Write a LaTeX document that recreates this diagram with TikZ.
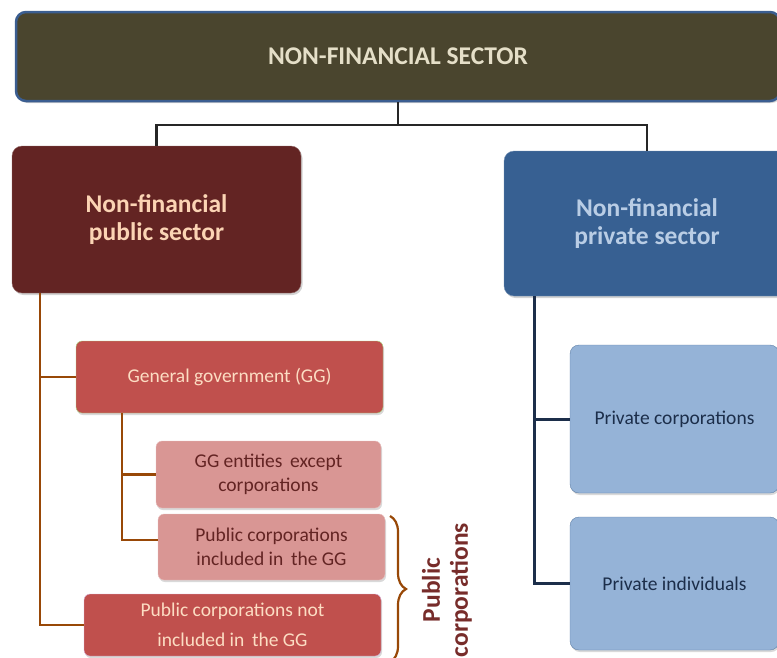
\documentclass[tikz,border=0pt]{standalone}
\usepackage{fontspec}
\setmainfont{Carlito}
\usepackage{tikz}
\usetikzlibrary{positioning,shadows,decorations.pathreplacing}

\definecolor{sectorolive}{RGB}{74,69,46}
\definecolor{sectorrim}{RGB}{59,94,145}
\definecolor{publicdark}{RGB}{99,36,35}
\definecolor{privatedark}{RGB}{55,96,146}
\definecolor{ggred}{RGB}{192,80,77}
\definecolor{ggpink}{RGB}{217,150,148}
\definecolor{privlight}{RGB}{149,179,215}
\definecolor{linebrown}{RGB}{152,72,7}
\definecolor{linenavy}{RGB}{28,46,74}
\definecolor{peach}{RGB}{251,212,180}
\definecolor{paleblue}{RGB}{185,205,229}
\definecolor{beige}{RGB}{229,223,200}
\definecolor{wine}{RGB}{119,44,42}

\begin{document}
\begin{tikzpicture}[x=1pt,y=-1pt]
                \tikzstyle{bigbox}=[rounded corners=10pt,align=center,inner sep=0pt,
                font=\fontsize{25.5}{28}\selectfont\bfseries,
                drop shadow={shadow xshift=1.5pt,shadow yshift=-2pt,opacity=0.35}]
                \tikzstyle{smallbox}=[rounded corners=6pt,align=center,inner sep=0pt,
                font=\fontsize{19.5}{24}\selectfont,
                drop shadow={shadow xshift=1pt,shadow yshift=-2pt,opacity=0.3}]
                \tikzstyle{blackline}=[draw=black!85,line width=2.2pt]
                \tikzstyle{brownline}=[draw=linebrown,line width=2.6pt]
                \tikzstyle{navyline}=[draw=linenavy,line width=3pt]
                
                \useasboundingbox (0,0) rectangle (777,657);
                
                %% Top of the tree
                \node [bigbox,fill=sectorolive,draw=sectorrim,line width=2.5pt,text=beige,
                       minimum width=764pt,minimum height=89pt] (top) at (398,56.5)
                      {NON-FINANCIAL SECTOR};
                
                %% The two sectors
                \node [bigbox,fill=publicdark,draw=publicdark!70!white,text=peach,
                       minimum width=289pt,minimum height=147pt] (public) at (156.5,219.5)
                      {Non-financial\\public sector};
                \node [bigbox,fill=privatedark,draw=privatedark!70!white,text=paleblue,
                       minimum width=286pt,minimum height=145pt] (private) at (647,223.5)
                      {Non-financial\\private sector};
                
                %% Public side
                \node [smallbox,fill=ggred,draw=green!40!olive!50!white,text=peach!80!white,
                       minimum width=307pt,minimum height=72pt] (gg) at (229.5,377)
                      {General government (GG)};
                \node [smallbox,fill=ggpink,draw=ggpink!60!white,text=publicdark,
                       minimum width=225pt,minimum height=67pt] (ggent) at (268.5,474.5)
                      {GG entities\, except\\corporations};
                \node [smallbox,fill=ggpink,draw=ggpink!60!white,text=publicdark,
                       minimum width=227pt,minimum height=66pt] (pcin) at (271.5,547)
                      {Public corporations\\included in\, the GG};
                \node [smallbox,fill=ggred,draw=violet!30!white,text=peach!80!white,
                       font=\fontsize{19.5}{30}\selectfont,
                       minimum width=297pt,minimum height=62pt] (pcnot) at (232.5,625)
                      {Public corporations not\\included in\, the GG};
                
                %% Private side
                \node [smallbox,rounded corners=9pt,fill=privlight,draw=privatedark!80!white,
                       text=linenavy,minimum width=209pt,minimum height=148pt]
                      (privcorp) at (674.5,419) {Private corporations};
                \node [smallbox,rounded corners=9pt,fill=privlight,draw=privatedark!80!white,
                       text=linenavy,minimum width=209pt,minimum height=133pt]
                      (privind) at (674.5,583.5) {Private individuals};
                
                %% Connectors
                \coordinate (split) at (398,125);
                \draw [blackline] (top.south) -- (split);
                \draw [blackline] (public.north) |- (split) -| (private.north);
                
                \coordinate (pubspine) at (40,0);
                \draw [brownline] (pubspine |- public.south) |- (gg.west);
                \draw [brownline] (pubspine |- public.south) |- (pcnot.west);
                
                \coordinate (ggspine) at (122,0);
                \draw [brownline] (ggspine |- gg.south) |- (ggent.west);
                \draw [brownline] (ggspine |- gg.south) |- ([yshift=7pt]pcin.west);
                
                \coordinate (privspine) at (534,0);
                \draw [navyline] (privspine |- private.south) |- (privcorp.west);
                \draw [navyline] (privspine |- private.south) |- (privind.west);
                
                %% Brace round the public corporations
                \draw [brownline,line width=2.2pt,decorate,decoration={brace,amplitude=16pt}]
                      (390,516) -- (390,662);
                \node [rotate=90,align=center,text=wine,inner sep=0pt,
                       font=\fontsize{25.5}{28}\selectfont\bfseries] (pubcorp) at (447,590)
                      {Public\\corporations};
\end{tikzpicture}
\end{document}
